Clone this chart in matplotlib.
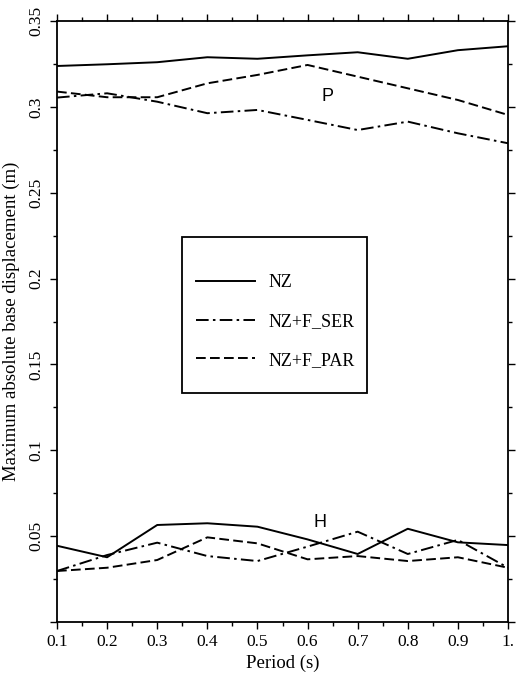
"""Maximum absolute base displacement vs period for NZ, NZ+F_SER, NZ+F_PAR."""

import matplotlib
matplotlib.use("Agg")
import matplotlib.pyplot as plt
from matplotlib.patches import Rectangle
from matplotlib.ticker import MultipleLocator

# --- data ---
period = [0.1, 0.2, 0.3, 0.4, 0.5, 0.6, 0.7, 0.8, 0.9, 1.0]

# P curves
nz_p = [0.3238, 0.3248, 0.3260, 0.3289, 0.3280, 0.3300, 0.3318, 0.3280, 0.3330, 0.3353]
ser_p = [0.3054, 0.3079, 0.3030, 0.2963, 0.2982, 0.2924, 0.2865, 0.2914, 0.2846, 0.2788]
par_p = [0.3089, 0.3056, 0.3056, 0.3137, 0.3186, 0.3244, 0.3176, 0.3108, 0.3040, 0.2953]

# H curves
nz_h = [0.0444, 0.0377, 0.0565, 0.0575, 0.0555, 0.0481, 0.0396, 0.0543, 0.0464, 0.0448]
ser_h = [0.0297, 0.0390, 0.0462, 0.0384, 0.0355, 0.0439, 0.0526, 0.0396, 0.0478, 0.0316]
par_h = [0.0297, 0.0316, 0.0361, 0.0493, 0.0458, 0.0365, 0.0384, 0.0355, 0.0377, 0.0316]

x_ticks = [0.1, 0.2, 0.3, 0.4, 0.5, 0.6, 0.7, 0.8, 0.9, 1.0]
x_ticklabels = ["0.1", "0.2", "0.3", "0.4", "0.5", "0.6", "0.7", "0.8", "0.9", "1."]
y_ticks = [0.0, 0.05, 0.1, 0.15, 0.2, 0.25, 0.3, 0.35]
y_ticklabels = ["", "0.05", "0.1", "0.15", "0.2", "0.25", "0.3", "0.35"]

SERIF = "Liberation Serif"
SANS = "Liberation Sans"
LW = 1.4
DASHDOT = (0, (6.5, 2.2, 1.3, 2.2))
DASHED = (0, (5, 2.2))

plt.rcParams["font.family"] = SERIF

fig = plt.figure(figsize=(5.16, 6.78), dpi=100)
ax = fig.add_axes([57 / 516, 56 / 678, 451 / 516, 601 / 678])

ax.plot(period, nz_p, color="black", lw=LW, ls="-", label="NZ")
ax.plot(period, ser_p, color="black", lw=LW, ls=DASHDOT, label="NZ+F_SER")
ax.plot(period, par_p, color="black", lw=LW, ls=DASHED, label="NZ+F_PAR")
ax.plot(period, nz_h, color="black", lw=LW, ls="-")
ax.plot(period, ser_h, color="black", lw=LW, ls=DASHDOT)
ax.plot(period, par_h, color="black", lw=LW, ls=DASHED)

ax.text(0.64, 0.306, "P", family=SANS, fontsize=13, ha="center", va="center")
ax.text(0.625, 0.0577, "H", family=SANS, fontsize=13, ha="center", va="center")

ax.set_xlim(0.1, 1.0)
ax.set_ylim(0.0, 0.35)
ax.set_xticks(x_ticks)
ax.set_xticklabels(x_ticklabels, fontsize=12.5)
ax.set_yticks(y_ticks)
ax.set_yticklabels(y_ticklabels, fontsize=12.5, rotation=90, va="center")
ax.xaxis.set_minor_locator(MultipleLocator(0.05))
ax.yaxis.set_minor_locator(MultipleLocator(0.025))
ax.tick_params(which="both", direction="out", top=True, right=True, width=1)
ax.tick_params(which="major", length=5)
ax.tick_params(which="minor", length=3)
ax.tick_params(axis="x", pad=4)
ax.tick_params(axis="y", pad=4)
for sp in ax.spines.values():
    sp.set_linewidth(1.3)

ax.set_xlabel("Period (s)", fontsize=13.5, labelpad=3)
ax.set_ylabel("Maximum absolute base displacement (m)", fontsize=13.5, labelpad=6)

# legend box drawn separately so the padding matches the reference
ax.add_patch(Rectangle((0.277, 0.381), 0.410, 0.260, transform=ax.transAxes,
                       fill=False, lw=1.3, ec="black", zorder=3))
ax.legend(loc="center", bbox_to_anchor=(0.484, 0.500), frameon=False,
          fontsize=13, handlelength=3.3, handletextpad=0.75, labelspacing=1.2,
          borderpad=0)

fig.savefig("out.png", dpi=100)
